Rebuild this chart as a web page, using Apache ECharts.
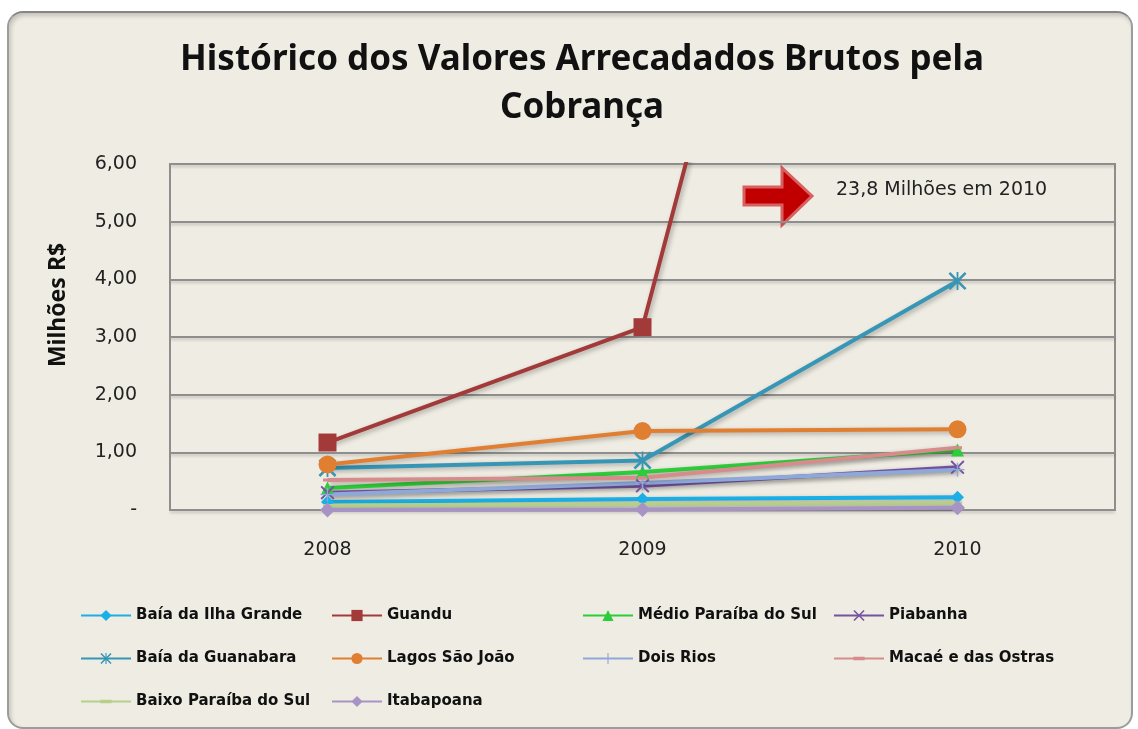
<!DOCTYPE html>
<html>
<head>
<meta charset="utf-8">
<script src="https://cdn.jsdelivr.net/npm/echarts@6/dist/echarts.min.js"></script>
<style>
  html, body { margin: 0; padding: 0; background: #ffffff; }
  #frame {
    position: absolute; left: 7px; top: 11px; width: 1122px; height: 714px;
    background: #EFEDE3; border: 2px solid #9c9c9c; border-top-color: #858585;
    border-radius: 16px; box-shadow: inset 2px 3px 4px rgba(0,0,0,0.18);
  }
  #main { position: absolute; left: 0; top: 0; width: 1138px; height: 729px; }
</style>
</head>
<body>
<div id="frame"></div>
<div id="main"></div>
<script>
  // anos
  var categories = ["2008", "2009", "2010"];
  var yLabels = ["-", "1,00", "2,00", "3,00", "4,00", "5,00", "6,00"];

  // valores em milhões de R$
  var baiaIlhaGrande = [0.14, 0.19, 0.22];
  var guandu = [1.17, 3.17, 23.8];
  var medioParaiba = [0.38, 0.66, 1.04];
  var piabanha = [0.30, 0.42, 0.74];
  var baiaGuanabara = [0.73, 0.86, 3.97];
  var lagosSaoJoao = [0.79, 1.37, 1.40];
  var doisRios = [0.27, 0.47, 0.70];
  var macae = [0.52, 0.56, 1.08];
  var baixoParaiba = [0.08, 0.10, 0.12];
  var itabapoana = [0.00, 0.01, 0.04];

  var xPath = "path://M0,2 L2,0 L10,8 L18,0 L20,2 L12,10 L20,18 L18,20 L10,12 L2,20 L0,18 L8,10 Z";
  var starPath = "path://M0,2 L2,0 L10,8 L18,0 L20,2 L12,10 L20,18 L18,20 L10,12 L2,20 L0,18 L8,10 Z M9,0 L11,0 L11,20 L9,20 Z";
  var plusPath = "path://M9,0 L11,0 L11,9 L20,9 L20,11 L11,11 L11,20 L9,20 L9,11 L0,11 L0,9 L9,9 Z";
  // traço curto no meio de uma caixa quadrada
  var dashPath = "path://M0,-3 L0.01,-3 Z M0,0 L9,0 L9,3 L0,3 Z M0,6 L0.01,6 Z";

  function serie(name, data, color, symbol, size) {
    return {
      name: name,
      type: "line",
      data: data,
      symbol: symbol,
      symbolSize: size,
      showAllSymbol: true,
      clip: true,
      lineStyle: {
        width: 4,
        color: color,
        shadowColor: "rgba(0,0,0,0.3)",
        shadowBlur: 5,
        shadowOffsetX: 2,
        shadowOffsetY: 2
      },
      itemStyle: { color: color },
      emphasis: { disabled: true }
    };
  }

  var myChart = echarts.init(document.getElementById("main"));
  myChart.setOption({
    backgroundColor: "transparent",
    animation: false,
    title: {
      text: "Histórico dos Valores Arrecadados Brutos pela\nCobrança",
      left: 577,
      textAlign: "center",
      top: 31,
      textStyle: {
        fontFamily: "Noto Sans",
        fontSize: 35,
        fontWeight: "bold",
        color: "#111111",
        lineHeight: 48
      }
    },
    grid: {
      left: 170,
      top: 164,
      width: 945,
      height: 346,
      show: true,
      borderColor: "#8e8e8e",
      borderWidth: 2,
      backgroundColor: "transparent"
    },
    xAxis: {
      type: "category",
      data: categories,
      boundaryGap: true,
      axisLine: { show: true, lineStyle: { color: "#8e8e8e", width: 2 } },
      axisTick: { show: false },
      axisLabel: {
        margin: 31,
        fontFamily: "DejaVu Sans",
        fontSize: 19,
        color: "#222222"
      }
    },
    yAxis: {
      type: "value",
      min: 0,
      max: 6,
      interval: 1,
      name: "Milhões R$",
      nameLocation: "middle",
      nameRotate: 90,
      nameGap: 100,
      nameTextStyle: {
        fontFamily: "Noto Sans",
        fontSize: 23,
        fontWeight: "bold",
        color: "#111111",
        padding: [0, 0, 0, 64]
      },
      axisLine: { show: true, lineStyle: { color: "#8e8e8e", width: 2 } },
      axisTick: { show: false },
      axisLabel: {
        margin: 33,
        fontFamily: "DejaVu Sans",
        fontSize: 19,
        color: "#222222",
        formatter: function (v) { return yLabels[Math.round(v)]; }
      },
      splitLine: {
        lineStyle: {
          color: "#8e8e8e",
          width: 2,
          shadowColor: "rgba(0,0,0,0.2)",
          shadowBlur: 3,
          shadowOffsetY: 2
        }
      }
    },
    legend: {
      left: 80,
      top: 594,
      width: 1010,
      padding: 0,
      itemWidth: 50,
      itemHeight: 14,
      itemGap: 0,
      textStyle: {
        fontFamily: "DejaVu Sans",
        fontSize: 15,
        fontWeight: "bold",
        color: "#111111",
        width: 195,
        lineHeight: 43,
        overflow: "truncate"
      }
    },
    graphic: [
      {
        type: "polygon",
        shape: {
          points: [[744, 187], [782, 187], [782, 168], [812, 196], [782, 225], [782, 205], [744, 205]]
        },
        style: { fill: "#C00000", stroke: "#D86060", lineWidth: 3 }
      },
      {
        type: "text",
        left: 836,
        top: 181,
        style: {
          text: "23,8 Milhões em 2010",
          font: "19px 'DejaVu Sans'",
          fill: "#222222"
        }
      }
    ],
    series: [
      serie("Baía da Ilha Grande", baiaIlhaGrande, "#1AAFE6", "diamond", 13),
      serie("Guandu", guandu, "#A33A3A", "rect", 18),
      serie("Médio Paraíba do Sul", medioParaiba, "#2ECC3A", "triangle", 13),
      serie("Piabanha", piabanha, "#7553A0", xPath, 14),
      serie("Baía da Guanabara", baiaGuanabara, "#3796B5", starPath, 18),
      serie("Lagos São João", lagosSaoJoao, "#E07E32", "circle", 18),
      serie("Dois Rios", doisRios, "#8EA8D9", plusPath, 14),
      serie("Macaé e das Ostras", macae, "#D68C8C", dashPath, 9),
      serie("Baixo Paraíba do Sul", baixoParaiba, "#B6D08C", dashPath, 9),
      serie("Itabapoana", itabapoana, "#A794C5", "diamond", 15)
    ]
  });
</script>
</body>
</html>
